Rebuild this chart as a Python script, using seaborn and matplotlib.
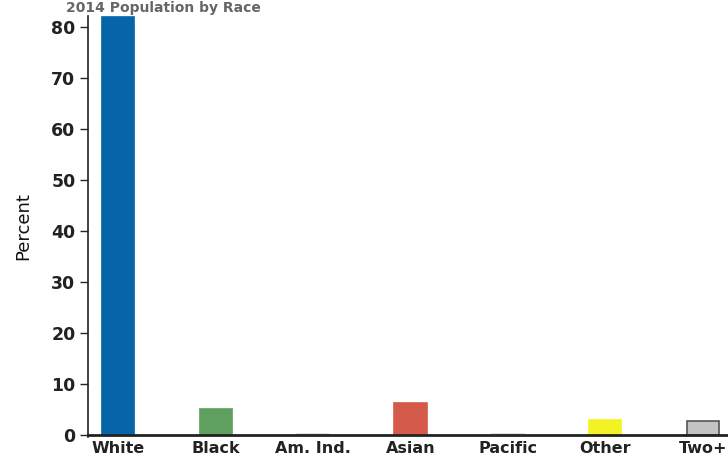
import matplotlib
matplotlib.use("Agg")
import matplotlib.pyplot as plt
import seaborn as sns
import pandas as pd

# data
races = ["White", "Black", "Am. Ind.", "Asian", "Pacific", "Other", "Two+"]
percent = [82.0, 5.1, 0.2, 6.3, 0.1, 2.9, 2.7]
colors = ["#0565a8", "#5f9f5f", "#e8d8cc", "#d45a4a", "#d8dae6", "#f2f224", "#c4c4c4"]
edges = ["#0565a8", "#5f9f5f", "#e8d8cc", "#d45a4a", "#d8dae6", "#f2f224", "#555555"]

df = pd.DataFrame({"Race": races, "Percent": percent})

sns.set_style("white")
plt.rcParams["font.family"] = ["DejaVu Sans"]

fig = plt.figure(figsize=(7.28, 4.59), dpi=100)
ax = fig.add_axes([88 / 728, 22 / 459, 1 - 88 / 728, 1 - 38 / 459])

sns.barplot(data=df, x="Race", y="Percent", hue="Race", palette=colors,
            width=0.33, legend=False, ax=ax, saturation=1)
for bar, ec in zip(ax.patches, edges):
    bar.set_edgecolor(ec)
    bar.set_linewidth(1.2)

ax.set_xlim(-0.31, 6.26)
ax.set_ylim(-0.4, 82.1)
ax.set_yticks(range(0, 81, 10))
ax.set_xlabel("")
ax.set_ylabel("Percent", fontsize=13, labelpad=14, color="#111111")
ax.tick_params(axis="y", length=6, width=1, direction="out", pad=3, left=True,
               labelsize=12.5, labelcolor="#222222")
ax.tick_params(axis="x", length=0, pad=4, labelsize=11.5, labelcolor="#222222")

for side in ["top", "right"]:
    ax.spines[side].set_visible(False)
ax.spines["left"].set_color("#222222")
ax.spines["left"].set_linewidth(1.2)
ax.spines["bottom"].set_color("#222222")
ax.spines["bottom"].set_linewidth(2)
ax.spines["bottom"].set_position(("data", 0))

# title squeezed into the thin strip at the top
fig.text(0.09, 0.998, "2014 Population by Race", fontsize=10, fontweight="bold",
         color="#666666", va="top", ha="left")

fig.canvas.draw()
for lab in ax.get_xticklabels() + ax.get_yticklabels():
    lab.set_fontweight("bold")

fig.savefig("out.png", dpi=100)
